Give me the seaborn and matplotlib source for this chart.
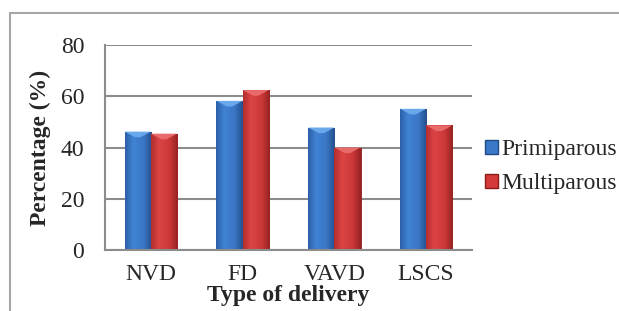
import matplotlib
matplotlib.use("Agg")
import matplotlib.pyplot as plt
import seaborn as sns
import pandas as pd
import numpy as np
from matplotlib.patches import Rectangle, Polygon
from matplotlib.colors import LinearSegmentedColormap

categories = ["NVD", "FD", "VAVD", "LSCS"]
series_names = ["Primiparous", "Multiparous"]
primiparous = [46.2, 58.2, 47.8, 55.1]
multiparous = [45.4, 62.4, 40.0, 48.6]
y_ticks = [0, 20, 40, 60, 80]

df = pd.DataFrame({
    "Type": categories * 2,
    "Parity": [series_names[0]] * len(categories) + [series_names[1]] * len(categories),
    "Percentage": primiparous + multiparous,
})

sns.set_style("white")
plt.rcParams["font.family"] = ["Liberation Serif", "DejaVu Serif"]
plt.rcParams["font.size"] = 17

fig = plt.figure(figsize=(6.19, 3.11), dpi=100)
ax = fig.add_axes([105 / 619, 1 - 250 / 311, (472 - 105) / 619, (250 - 45) / 311])

palette = {"Primiparous": "#3B78C8", "Multiparous": "#D43A3A"}
edges = {"Primiparous": "#1F4A85", "Multiparous": "#8A1C1C"}
ramps = {
    "Primiparous": ["#2C5FA8", "#4083D4", "#3A76C4", "#24508E"],
    "Multiparous": ["#B32E2E", "#DC4444", "#CC3838", "#962222"],
}
bevel = {"Primiparous": "#6AA8EC", "Multiparous": "#E86A6A"}

sns.barplot(data=df, x="Type", y="Percentage", hue="Parity", palette=palette,
            width=0.57, saturation=1, ax=ax, legend=True)

ax.set_ylim(0, 80)
ax.set_xlim(-0.5, 3.5)

# excel-like shading: horizontal gradient clipped to each bar + light bevel on top
grad = np.linspace(0, 1, 64).reshape(1, -1)
for cont, name in zip(ax.containers, series_names):
    cmap = LinearSegmentedColormap.from_list(name, list(zip([0, 0.3, 0.7, 1], ramps[name])))
    for bar in cont:
        x0, w, h = bar.get_x(), bar.get_width(), bar.get_height()
        im = ax.imshow(grad, cmap=cmap, aspect="auto", extent=(x0, x0 + w, 0, h),
                       zorder=bar.get_zorder() + 0.1, interpolation="bicubic")
        im.set_clip_path(bar)
        bar.set_edgecolor(edges[name])
        bar.set_linewidth(0.6)
        bh = 2.2
        ax.add_patch(Polygon([(x0, h), (x0 + w, h), (x0 + w * 0.6, h - bh), (x0 + w * 0.4, h - bh)],
                             closed=True, facecolor=bevel[name], edgecolor="none",
                             zorder=bar.get_zorder() + 0.2))
ax.set_xlim(-0.5, 3.5)
ax.set_ylim(0, 80)

ax.set_yticks(y_ticks)
ax.yaxis.grid(True, color="#8C8C8C", linewidth=1.5)
ax.set_axisbelow(True)
for s in ["top", "right"]:
    ax.spines[s].set_visible(False)
for s in ["left", "bottom"]:
    ax.spines[s].set_color("#8C8C8C")
    ax.spines[s].set_linewidth(1.5)

ax.tick_params(axis="y", length=7, width=1.5, color="#8C8C8C", pad=8, labelsize=17)
ax.tick_params(axis="x", which="major", length=0, pad=10, labelsize=17)
ax.set_xticks(np.arange(-0.5, 4, 1), minor=True)
ax.tick_params(axis="x", which="minor", length=7, width=1.5, color="#8C8C8C")

ax.set_ylabel("Percentage (%)", fontweight="bold", fontsize=17, labelpad=7)
ax.set_xlabel("Type of delivery", fontweight="bold", fontsize=17, labelpad=0)

leg = ax.legend(loc="center left", bbox_to_anchor=(1.01, 0.407), frameon=False,
                fontsize=17, handlelength=0.55, handleheight=0.55, handletextpad=0.15,
                labelspacing=0.55, borderaxespad=0)
for h, name in zip(leg.legend_handles, series_names):
    h.set_edgecolor(edges[name])

# outer chart-area frame
fig.patches.append(Rectangle((10 / 619, -0.1), 1.2, 1 - 13 / 311 + 0.1,
                             transform=fig.transFigure, fill=False,
                             edgecolor="#A6A6A6", linewidth=1.5))

fig.savefig("out.png", dpi=100)
